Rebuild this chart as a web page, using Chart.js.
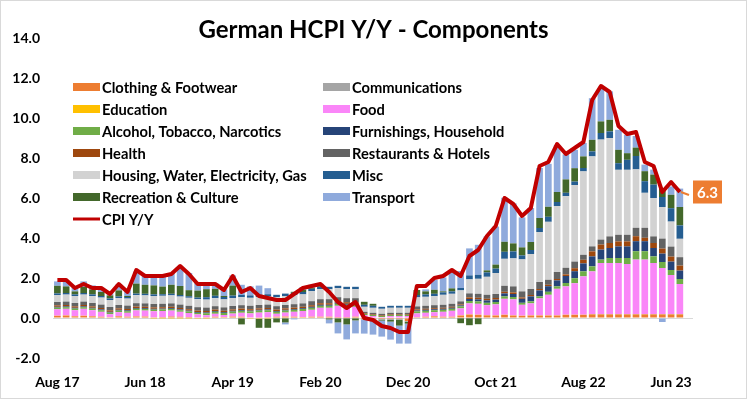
<!DOCTYPE html>
<html>
<head>
<meta charset="utf-8">
<script src="https://cdn.jsdelivr.net/npm/chart.js@4.4.0/dist/chart.umd.min.js"></script>
<style>
  body { margin: 0; background: #fff; }
  canvas { display: block; }
</style>
</head>
<body>
<canvas id="hcpiChart" width="747" height="399"></canvas>
<script>
// months Aug 17 .. Jul 23, plus one empty slot on the right
const months = [
  'Aug 17','Sep 17','Oct 17','Nov 17','Dec 17',
  'Jan 18','Feb 18','Mar 18','Apr 18','May 18','Jun 18','Jul 18','Aug 18','Sep 18','Oct 18','Nov 18','Dec 18',
  'Jan 19','Feb 19','Mar 19','Apr 19','May 19','Jun 19','Jul 19','Aug 19','Sep 19','Oct 19','Nov 19','Dec 19',
  'Jan 20','Feb 20','Mar 20','Apr 20','May 20','Jun 20','Jul 20','Aug 20','Sep 20','Oct 20','Nov 20','Dec 20',
  'Jan 21','Feb 21','Mar 21','Apr 21','May 21','Jun 21','Jul 21','Aug 21','Sep 21','Oct 21','Nov 21','Dec 21',
  'Jan 22','Feb 22','Mar 22','Apr 22','May 22','Jun 22','Jul 22','Aug 22','Sep 22','Oct 22','Nov 22','Dec 22',
  'Jan 23','Feb 23','Mar 23','Apr 23','May 23','Jun 23','Jul 23','Aug 23'
];

// contributions to y/y, percentage points
const clothing = [0.1,0.12,0.08,0.1,0.08, 0.05,0.03,0.08,0.05,0.07,0.06,0.04,0.05,0.07,0.06,0.05,0.03, 0.04,0.05,0.04,0.06,0.05,0.03,0.02,0.04,0.05,0.06,0.05,0.04,
  0.05,0.05,0.05,0.0,0.0,0.05,-0.05,-0.05,-0.05,-0.05,-0.05,-0.15,
  0.02,0.05,0.08,0.05,0.05,0.12,0.17,0.15,0.13,0.12,0.15,0.12,
  0.1,0.12,0.12,0.12,0.12,0.15,0.15,0.15,0.18,0.18,0.18,0.18, 0.18,0.18,0.18,0.18,0.18,0.18,0.18];
const communications = [-0.03,-0.03,-0.03,-0.03,-0.03, -0.04,-0.04,-0.03,-0.03,-0.03,-0.03,-0.03,-0.03,-0.03,-0.03,-0.03,-0.03, -0.02,-0.02,-0.02,-0.02,-0.02,-0.02,-0.02,-0.02,-0.02,-0.02,-0.02,-0.02,
  -0.02,-0.02,-0.02,-0.02,-0.02,-0.02,-0.03,-0.03,-0.03,-0.03,-0.03,-0.03,
  -0.01,-0.01,-0.01,-0.01,-0.01,-0.01,-0.01,-0.01,-0.01,-0.01,-0.01,-0.01,
  0,0,0,0,0,0,0,0,0.01,0.01,0.01,0.01, 0.01,0.01,0.01,0.01,0.01,0.01,0.01];
const education = [0.01,0.01,0.01,0.01,0.01, 0.01,0.01,0.01,0.01,0.01,0.01,-0.02,-0.02,-0.02,-0.02,-0.02,-0.02, -0.02,0.01,0.01,0.01,0.01,-0.02,-0.02,-0.02,0.01,0.01,0.01,0.01,
  0.01,0.01,0.01,0.01,0.01,0.01,0,0,0,0,0,0,
  0.01,0.01,0.01,0.01,0.01,0.01,0.01,0.01,0.01,0.01,0.01,0.01,
  0.01,0.01,0.01,0.01,0.01,0.01,0.01,0.01,0.01,0.01,0.01,0.01, 0.01,0.01,0.01,0.01,0.01,0.01,0.01];
const food = [0.33,0.33,0.3,0.35,0.3, 0.25,0.15,0.2,0.2,0.3,0.3,0.3,0.3,0.3,0.25,0.2,0.15, 0.1,0.15,0.1,0.15,0.2,0.2,0.25,0.25,0.15,0.2,0.25,0.3,
  0.35,0.45,0.45,0.6,0.55,0.5,0.15,0.1,0.05,0.1,0.1,0.1,
  0.2,0.2,0.2,0.25,0.3,0.35,0.55,0.55,0.5,0.55,0.8,0.8,
  0.55,0.6,0.85,1.03,1.33,1.42,1.58,1.92,2.13,2.55,2.55,2.55, 2.5,2.72,2.72,2.55,2.3,1.95,1.5];
const alcohol = [0.08,0.08,0.08,0.08,0.08, 0.08,0.08,0.08,0.08,0.08,0.08,0.08,0.08,0.08,0.08,0.08,0.08, 0.1,0.1,0.1,0.1,0.1,0.1,0.1,0.1,0.1,0.1,0.1,0.1,
  0.1,0.1,0.1,0.1,0.1,0.1,0.05,0.05,0.05,0.05,0.05,0.05,
  0.1,0.1,0.1,0.1,0.1,0.1,0.12,0.12,0.12,0.12,0.12,0.12,
  0.1,0.1,0.1,0.15,0.12,0.17,0.25,0.25,0.25,0.17,0.25,0.25, 0.3,0.42,0.42,0.33,0.3,0.25,0.25];
const furnishings = [0.04,0.04,0.04,0.04,0.04, 0.04,0.04,0.04,0.04,0.04,0.04,0.04,0.04,0.04,0.04,0.04,0.04, 0.04,0.04,0.04,0.04,0.04,0.04,0.04,0.04,0.04,0.04,0.04,0.04,
  0.05,0.05,0.05,0.05,0.05,0.05,0,0,0,0,0,0,
  0.05,0.05,0.05,0.05,0.05,0.05,0.1,0.1,0.12,0.12,0.15,0.15,
  0.2,0.25,0.3,0.28,0.3,0.35,0.35,0.4,0.5,0.5,0.5,0.58, 0.58,0.5,0.5,0.42,0.42,0.42,0.42];
const health = [0.07,0.07,0.07,0.07,0.07, 0.07,0.07,0.07,0.07,0.07,0.07,0.07,0.07,0.07,0.07,0.07,0.07, 0.07,0.07,0.07,0.07,0.07,0.07,0.07,0.07,0.07,0.07,0.07,0.07,
  0.08,0.08,0.08,0.08,0.08,0.08,0.03,0.03,0.03,0.03,0.03,0.03,
  0.05,0.05,0.05,0.05,0.05,0.05,0.08,0.08,0.08,0.08,0.08,0.08,
  0.07,0.07,0.07,0.07,0.07,0.08,0.15,0.18,0.25,0.25,0.25,0.25, 0.25,0.25,0.17,0.25,0.25,0.25,0.25];
const restaurants = [0.17,0.17,0.17,0.17,0.17, 0.17,0.17,0.17,0.17,0.17,0.17,0.17,0.17,0.17,0.17,0.17,0.17, 0.17,0.17,0.17,0.17,0.17,0.17,0.17,0.17,0.17,0.17,0.17,0.17,
  0.2,0.2,0.2,0.2,0.2,0.2,0.08,0.08,0.08,0.08,0.08,0.08,
  0.15,0.15,0.15,0.15,0.15,0.15,0.2,0.2,0.2,0.2,0.3,0.3,
  0.3,0.3,0.35,0.25,0.35,0.33,0.33,0.25,0.25,0.25,0.33,0.33, 0.33,0.42,0.5,0.33,0.5,0.5,0.42];
const housing = [0.35,0.35,0.35,0.35,0.35, 0.35,0.35,0.35,0.35,0.4,0.4,0.4,0.4,0.4,0.4,0.4,0.4, 0.4,0.4,0.4,0.4,0.4,0.4,0.4,0.4,0.45,0.45,0.45,0.45,
  0.5,0.5,0.5,0.45,0.45,0.45,0.25,0.25,0.25,0.25,0.25,0.25,
  0.45,0.45,0.45,0.5,0.5,0.55,0.7,0.75,0.9,1.05,1.35,1.4,
  1.6,1.75,2.5,2.9,3.3,3.58,3.83,4.17,4.5,5.0,4.92,3.25, 3.25,2.92,1.75,1.92,1.58,1.25,0.92];
const misc = [0.08,0.08,0.08,0.08,0.08, 0.08,0.08,0.08,0.08,0.08,0.08,0.08,0.08,0.08,0.08,0.08,0.08, 0.12,0.12,0.12,0.12,0.12,0.12,0.12,0.12,0.12,0.12,0.12,0.12,
  0.12,0.12,0.12,0.12,0.12,0.12,0.1,0.1,0.1,0.1,0.1,0.1,
  0.12,0.12,0.12,0.12,0.12,0.12,0.2,0.2,0.22,0.22,0.35,0.35,
  0.2,0.2,0.2,0.25,0.2,0.17,0.17,0.17,0.25,0.33,0.33,0.33, 0.5,0.67,0.58,0.67,0.5,0.67,0.67];
const recreation = [0.38,0.33,0.15,0.3,0.25, 0.2,0.15,0.3,0.05,0.5,0.45,0.45,0.38,0.45,0.45,0.3,0.35, 0.4,0.35,0.05,0.5,-0.3,0.0,-0.45,-0.45,-0.2,-0.2,0.05,0.1,
  0.05,0.05,-0.05,-0.2,-0.3,-0.1,0.15,0.1,-0.05,-0.1,-0.3,-0.1,
  0.25,0.15,0.2,0.05,0.15,-0.25,-0.35,-0.3,0.1,0.2,0.5,0.4,
  0.4,0.4,0.5,0.5,0.5,0.67,0.67,0.58,0.58,0.58,0.58,0.67, 0.33,0.42,0.5,0.5,0.42,0.67,0.92];
const transport = [0.22,0.25,0.2,0.28,0.2, 0.13,0.1,0.3,0.33,0.6,0.47,0.52,0.48,0.59,0.95,0.86,0.38, 0.31,0.27,0.33,0.51,0.5,0.45,0.45,0.3,0.0,-0.1,-0.05,0.15,
  0.15,0.1,-0.2,-0.55,-0.75,-0.65,-0.7,-0.75,-0.8,-0.9,-0.9,-1.0,
  0.0,0.1,0.5,0.7,0.85,0.85,1.35,1.5,1.7,1.9,2.2,2.0,
  1.5,1.7,2.5,2.15,2.35,1.25,0.92,0.67,2.08,1.67,1.42,1.0, 0.92,0.58,0.33,0.25,-0.2,0.42,0.92];
const cpi = [1.9,1.9,1.5,1.7,1.5, 1.5,1.2,1.7,1.3,2.4,2.1,2.1,2.1,2.2,2.6,2.2,1.7, 1.7,1.7,1.4,2.1,1.3,1.5,1.1,1.0,0.9,0.9,1.2,1.5,
  1.6,1.7,1.3,0.8,0.5,0.8,0.0,-0.1,-0.4,-0.5,-0.7,-0.7,
  1.6,1.6,2.0,2.1,2.4,2.1,3.1,3.4,4.1,4.6,6.0,5.7,
  5.1,5.5,7.6,7.8,8.7,8.2,8.5,8.8,10.9,11.6,11.3,9.6, 9.2,9.3,7.8,7.6,6.3,6.8,6.3];

const components = [
  ['Clothing & Footwear', clothing, '#ED7D31'],
  ['Communications', communications, '#A5A5A5'],
  ['Education', education, '#FFC000'],
  ['Food', food, '#FA86F8'],
  ['Alcohol, Tobacco, Narcotics', alcohol, '#70AD47'],
  ['Furnishings, Household', furnishings, '#264478'],
  ['Health', health, '#9E480E'],
  ['Restaurants & Hotels', restaurants, '#636363'],
  ['Housing, Water, Electricity, Gas', housing, '#D2D2D2'],
  ['Misc', misc, '#255E91'],
  ['Recreation & Culture', recreation, '#43682B'],
  ['Transport', transport, '#8FAADC']
];

const FONT = 'Lato, "Open Sans", sans-serif';

let datasets = components.map(c => ({
  type: 'bar',
  label: c[0],
  data: c[1],
  backgroundColor: c[2],
  stack: 'parts',
  order: 1,
  categoryPercentage: 0.76,
  barPercentage: 1
}));
datasets.push({
  type: 'line',
  label: 'CPI Y/Y',
  data: cpi,
  borderColor: '#C00000',
  backgroundColor: '#C00000',
  borderWidth: 4,
  borderJoinStyle: 'round',
  pointRadius: 0,
  tension: 0,
  stack: 'cpi',
  order: 0
});

// two-column legend inside the plot, Excel style
const legendTwoCols = {
  id: 'legendTwoCols',
  afterDraw(chart) {
    let ctx = chart.ctx;
    let area = chart.chartArea;
    ctx.save();
    ctx.font = 'bold 14.7px ' + FONT;
    ctx.textBaseline = 'middle';
    ctx.fillStyle = '#000';
    chart.data.datasets.forEach((ds, i) => {
      let col = i % 2, row = Math.floor(i / 2);
      let x = area.left + 20 + col * 250;
      let y = area.top + 49 + row * 22;
      if (ds.type === 'line') {
        ctx.strokeStyle = ds.borderColor;
        ctx.lineWidth = 3;
        ctx.beginPath();
        ctx.moveTo(x, y);
        ctx.lineTo(x + 27, y);
        ctx.stroke();
      } else {
        ctx.fillStyle = ds.backgroundColor;
        ctx.fillRect(x, y - 4, 27, 8);
      }
      ctx.fillStyle = '#000';
      ctx.fillText(ds.label, x + 29, y + 1);
    });
    ctx.restore();
  }
};

// orange value box at the end of the CPI line
const lastValue = {
  id: 'lastValue',
  afterDatasetsDraw(chart) {
    let idx = chart.data.datasets.length - 1;
    let pts = chart.getDatasetMeta(idx).data;
    let pt = pts[pts.length - 1];
    let ctx = chart.ctx;
    let bx = chart.chartArea.right, bw = 29, bh = 23;
    let by = pt.y - bh / 2;
    ctx.save();
    ctx.strokeStyle = '#ED7D31';
    ctx.lineWidth = 2;
    ctx.beginPath();
    ctx.moveTo(pt.x + 1, pt.y);
    ctx.lineTo(bx - 4, pt.y + 3);
    ctx.stroke();
    ctx.fillStyle = '#ED7D31';
    ctx.fillRect(bx, by, bw, bh);
    ctx.fillStyle = '#fff';
    ctx.font = 'bold 15px ' + FONT;
    ctx.textAlign = 'center';
    ctx.textBaseline = 'middle';
    ctx.fillText(cpi[cpi.length - 1].toFixed(1), bx + bw / 2, pt.y + 1);
    ctx.restore();
  }
};

const frame = {
  id: 'frame',
  beforeDraw(chart) {
    let ctx = chart.ctx;
    ctx.save();
    ctx.fillStyle = '#fff';
    ctx.fillRect(0, 0, chart.width, chart.height);
    ctx.strokeStyle = '#d9d9d9';
    ctx.lineWidth = 1;
    ctx.strokeRect(0.5, 0.5, chart.width - 1, chart.height - 1);
    ctx.restore();
  }
};

new Chart(document.getElementById('hcpiChart'), {
  data: { labels: months, datasets: datasets },
  options: {
    responsive: false,
    animation: false,
    layout: { padding: { left: 10, right: 10, bottom: 5, top: 0 } },
    plugins: {
      legend: { display: false },
      tooltip: { enabled: false },
      title: {
        display: true,
        text: 'German HCPI Y/Y - Components',
        color: '#000',
        font: { family: FONT, size: 24, weight: 'bold', lineHeight: 1 },
        padding: { top: 18, bottom: -4 }
      }
    },
    scales: {
      x: {
        stacked: true,
        grid: { display: false },
        border: { display: false },
        afterFit: s => { s.height = 36; },
        ticks: {
          autoSkip: false,
          maxRotation: 0,
          padding: 8,
          color: '#000',
          font: { family: FONT, size: 14, weight: 'bold' },
          callback: function (val, i) {
            return i % 10 === 0 ? this.getLabelForValue(val) : '';
          }
        }
      },
      y: {
        stacked: true,
        min: -2,
        max: 14,
        border: { display: false },
        afterFit: s => { s.width = 43; },
        grid: {
          drawTicks: false,
          lineWidth: 1,
          color: c => c.tick && c.tick.value === 0 ? '#d9d9d9' : 'rgba(0,0,0,0)'
        },
        ticks: {
          stepSize: 2,
          padding: 13,
          color: '#000',
          font: { family: FONT, size: 14, weight: 'bold' },
          callback: v => v.toFixed(1)
        }
      },
      // empty right-hand axis: keeps room for the value box
      yRight: {
        position: 'right',
        display: true,
        grid: { display: false },
        border: { display: false },
        ticks: { display: false },
        afterFit: s => { s.width = 44; }
      }
    }
  },
  plugins: [frame, legendTwoCols, lastValue]
});
</script>
</body>
</html>
